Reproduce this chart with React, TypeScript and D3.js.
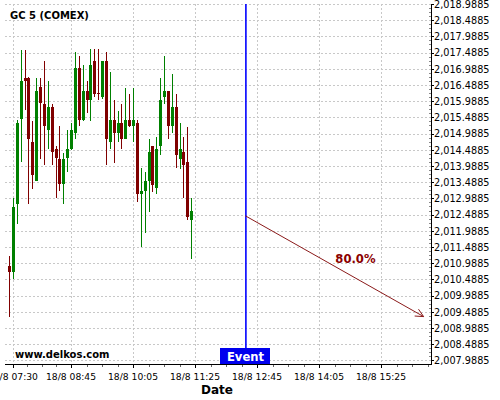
import React from "react";
import * as d3 from "d3";

const candleTimes = [
  "07:25","07:30","07:35","07:40","07:45","07:50","07:55","08:00","08:05","08:10","08:15","08:20",
  "08:25","08:30","08:35","08:40","08:45","08:50","08:55","09:00","09:05","09:10","09:15","09:20",
  "09:25","09:30","09:35","09:40","09:45","09:50","09:55","10:00","10:05","10:10","10:15","10:20",
  "10:25","10:30","10:35","10:40","10:45","10:50","10:55","11:00","11:05","11:10","11:15","11:20",
];
const opens = [
  2010.90,2010.73,2012.83,2015.43,2016.70,2016.70,2014.73,2013.53,2016.43,2015.90,2015.11,2015.81,
  2014.51,2014.20,2013.42,2014.23,2014.51,2015.02,2017.01,2015.41,2016.30,2016.03,2017.22,2016.25,
  2016.13,2017.23,2014.74,2015.41,2015.02,2015.31,2014.83,2015.41,2015.23,2015.32,2013.13,2013.22,
  2013.53,2014.61,2013.32,2014.61,2016.13,2016.30,2015.23,2015.81,2014.21,2014.42,2014.11,2012.32,
];
const highs = [
  2011.21,2012.99,2015.41,2017.57,2017.57,2016.73,2015.39,2016.70,2016.70,2017.22,2016.60,2015.89,
  2014.60,2015.21,2014.40,2015.10,2015.31,2017.50,2017.39,2017.11,2016.60,2017.59,2017.59,2017.59,
  2017.23,2017.50,2016.90,2016.03,2015.70,2015.89,2016.41,2016.21,2016.41,2015.41,2013.92,2013.79,
  2014.81,2014.61,2014.89,2016.70,2017.39,2016.30,2016.82,2016.20,2015.31,2014.89,2015.20,2012.99,
];
const lows = [
  2009.32,2010.49,2012.19,2014.10,2015.72,2012.81,2013.29,2013.53,2014.20,2014.01,2014.50,2014.01,
  2012.99,2013.22,2012.81,2013.79,2014.48,2014.81,2015.21,2015.39,2015.62,2015.39,2016.11,2016.03,
  2016.05,2014.01,2014.50,2014.09,2014.74,2014.50,2014.83,2015.20,2014.72,2012.89,2011.50,2011.91,
  2012.58,2013.20,2013.12,2014.33,2015.90,2014.81,2015.00,2013.92,2013.91,2012.99,2012.32,2011.12,
];
const closes = [
  2010.73,2012.71,2015.32,2016.60,2016.62,2014.83,2013.71,2016.30,2015.92,2015.23,2015.81,2014.43,
  2014.23,2013.42,2014.20,2014.51,2015.10,2017.01,2015.41,2016.30,2016.03,2017.11,2016.21,2016.21,
  2017.23,2014.83,2015.41,2015.02,2015.31,2014.83,2015.41,2015.23,2015.41,2013.13,2013.22,2013.53,
  2014.42,2013.40,2014.51,2016.03,2016.30,2015.23,2015.81,2014.33,2014.51,2014.02,2012.42,2012.60,
];

const xTickTimes = ["07:30", "08:45", "10:05", "11:25", "12:45", "14:05", "15:25"];
const xTickLabels = ["18/8 07:30", "18/8 08:45", "18/8 10:05", "18/8 11:25", "18/8 12:45", "18/8 14:05", "18/8 15:25"];
const yTicks = [
  2007.9885, 2008.4885, 2008.9885, 2009.4885, 2009.9885, 2010.4885, 2010.9885, 2011.4885, 2011.9885,
  2012.4885, 2012.9885, 2013.4885, 2013.9885, 2014.4885, 2014.9885, 2015.4885, 2015.9885, 2016.4885,
  2016.9885, 2017.4885, 2017.9885, 2018.4885, 2018.9885,
];
const xDomain = ["07:19:48", "16:29:30"];
const yDomain = [2007.877, 2018.9885];

const eventTime = "12:30";
const arrowFrom = { time: "12:30", price: 2012.45 };
const arrowTo = { time: "16:20", price: 2009.34 };
const arrowLabel = { time: "14:52", price: 2011.11, text: "80.0%" };
const title = "GC 5 (COMEX)";
const watermark = "www.delkos.com";
const eventText = "Event";
const xTitle = "Date";

const toMin = (s: string) => {
  const p = s.split(":").map(Number);
  return p[0] * 60 + p[1] + (p[2] || 0) / 60;
};

const L = 5, R = 431, T = 4, B = 364;
const RED = "#800000", GREEN = "#008000";
const FONT = "DejaVu Sans, sans-serif";

export default function App() {
  const x = d3.scaleLinear().domain(xDomain.map(toMin)).range([L, R]);
  const y = d3.scaleLinear().domain(yDomain).range([B, T]);

  const majors = xTickTimes.map(toMin);
  const minors: number[] = [];
  for (let i = 0; i < majors.length - 1; i++) {
    const a = majors[i], b = majors[i + 1];
    for (let k = 1; k < 4; k++) minors.push(a + ((b - a) * k) / 4);
  }
  for (let m = majors[majors.length - 1] + 20; x(m) < R; m += 20) minors.push(m);

  const yMinor: number[] = [];
  for (let i = 0; i < yTicks.length - 1; i++) {
    for (let k = 1; k < 4; k++) yMinor.push(yTicks[i] + (0.5 * k) / 4);
  }

  const exv = x(toMin(eventTime));
  const ax1 = x(toMin(arrowFrom.time)), ay1 = y(arrowFrom.price);
  const ax2 = x(toMin(arrowTo.time)), ay2 = y(arrowTo.price);
  const ang = Math.atan2(ay2 - ay1, ax2 - ax1);
  const hl = 9, ha = 0.45;
  const h1 = [ax2 - hl * Math.cos(ang - ha), ay2 - hl * Math.sin(ang - ha)];
  const h2 = [ax2 - hl * Math.cos(ang + ha), ay2 - hl * Math.sin(ang + ha)];

  return (
    <svg width={500} height={400} style={{ position: "absolute", left: 0, top: 0, background: "#fff" }} fontFamily={FONT}>
      <rect x={0} y={0} width={500} height={400} fill="#fff" />
      {/* grid */}
      <g stroke="#c8c8c8" strokeWidth={1} strokeDasharray="2,2" shapeRendering="crispEdges">
        {yTicks.map((t, i) => (
          <line key={"gy" + i} x1={L} x2={R} y1={Math.round(y(t)) + 0.5} y2={Math.round(y(t)) + 0.5} />
        ))}
        {majors.map((m, i) => (
          <line key={"gx" + i} x1={Math.round(x(m)) + 0.5} x2={Math.round(x(m)) + 0.5} y1={T} y2={B} />
        ))}
      </g>
      {/* candles */}
      <g shapeRendering="crispEdges">
        {candleTimes.map((t, i) => {
          const cx = Math.round(x(toMin(t)));
          const o = opens[i], c = closes[i];
          const col = c >= o ? GREEN : RED;
          const yt = y(Math.max(o, c)), yb = y(Math.min(o, c));
          return (
            <g key={"c" + i} fill={col}>
              <rect x={cx} y={y(highs[i])} width={1} height={Math.max(1, y(lows[i]) - y(highs[i]))} />
              <rect x={cx - 1} y={yt} width={3} height={Math.max(1, yb - yt)} />
            </g>
          );
        })}
      </g>
      {/* title */}
      <text x={10} y={19} fontSize={10} fontWeight="bold" fill="#000">{title}</text>
      {/* event line */}
      <line x1={exv + 0.5} x2={exv + 0.5} y1={T} y2={B} stroke="#0000ff" strokeWidth={1.6} />
      {/* arrow */}
      <g stroke="#8b1a1a" strokeWidth={1} fill="none">
        <line x1={ax1} y1={ay1} x2={ax2} y2={ay2} />
        <polyline points={`${h1[0]},${h1[1]} ${ax2},${ay2} ${h2[0]},${h2[1]}`} />
      </g>
      <text x={x(toMin(arrowLabel.time))} y={y(arrowLabel.price) + 4} fontSize={11.6} fontWeight="bold" fill="#8b0000" textAnchor="middle">
        {arrowLabel.text}
      </text>
      {/* watermark */}
      <text x={15} y={357.5} fontSize={10} fontWeight="bold" fill="#000">{watermark}</text>
      {/* event box */}
      <rect x={Math.round(exv) - 25} y={348} width={50} height={B - 348} fill="#0000ee" shapeRendering="crispEdges" />
      <text x={Math.round(exv) + 0.5} y={361} fontSize={11.6} fontWeight="bold" fill="#fff" textAnchor="middle">{eventText}</text>
      {/* axes */}
      <g stroke="#000" strokeWidth={1} shapeRendering="crispEdges">
        <line x1={L} x2={R + 0.5} y1={B + 0.5} y2={B + 0.5} />
        <line x1={R + 0.5} x2={R + 0.5} y1={T} y2={B + 0.5} />
        {majors.map((m, i) => (
          <line key={"tx" + i} x1={Math.round(x(m)) + 0.5} x2={Math.round(x(m)) + 0.5} y1={B} y2={B + 4} />
        ))}
        {minors.map((m, i) => (
          <line key={"mx" + i} x1={Math.round(x(m)) + 0.5} x2={Math.round(x(m)) + 0.5} y1={B + 1} y2={B + 3} stroke="#666" />
        ))}
        {yTicks.map((t, i) => (
          <line key={"ty" + i} x1={R} x2={R + 3} y1={Math.round(y(t)) + 0.5} y2={Math.round(y(t)) + 0.5} />
        ))}
        {yMinor.map((t, i) => (
          <line key={"my" + i} x1={R - 2} x2={R} y1={Math.round(y(t)) + 0.5} y2={Math.round(y(t)) + 0.5} stroke="#888" />
        ))}
      </g>
      {xTickLabels.map((s, i) => (
        <text key={"lx" + i} x={x(majors[i])} y={380} fontSize={9.2} textAnchor="middle" fill="#000">{s}</text>
      ))}
      {yTicks.map((t, i) => (
        <text key={"ly" + i} x={434} y={y(t) + 0.5} dy="0.35em" fontSize={9.7} fill="#000">{d3.format(",.4f")(t)}</text>
      ))}
      <text x={217} y={394} fontSize={12} fontWeight="bold" textAnchor="middle" fill="#000">{xTitle}</text>
    </svg>
  );
}
